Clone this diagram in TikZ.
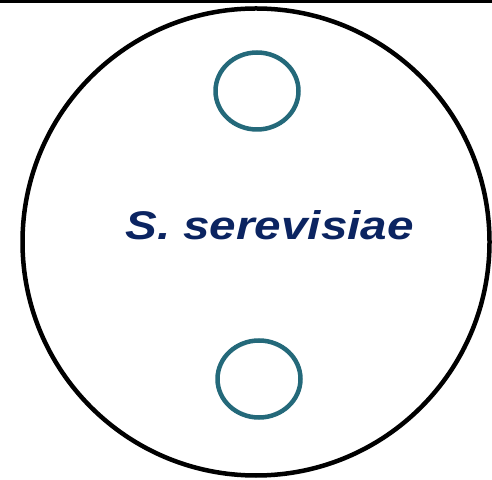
\documentclass[tikz,border=0pt]{standalone}
\usepackage{fontspec}
\setmainfont{Liberation Sans}
\usetikzlibrary{shapes.geometric}
\definecolor{spotteal}{HTML}{24697A}
\definecolor{namenavy}{HTML}{0B2461}
\tikzset{cell/.style={circle,draw,line width=4.5pt,minimum size=467pt,inner sep=0pt},
  spot/.style={ellipse,draw=spotteal,line width=4.5pt,minimum width=83pt,minimum height=77pt,inner sep=0pt}}

\begin{document}
\begin{tikzpicture}[x=1pt,y=1pt]
  \path[use as bounding box] (0,0) rectangle (492,479);
  \draw[line width=3pt] (0,477.5)--(492,477.5);
  \node[cell] (yeast) at (256,237) {};
  \node[spot] (spottop) at (257,388) {};
  \node[spot] (spotbot) at (259,100) {};
  \node[anchor=base,inner sep=0pt,text=namenavy,font=\fontsize{40}{42}\selectfont\bfseries\itshape] (name) at (269.5,239.5) {\scalebox{1.19}[1]{S. serevisiae}};
\end{tikzpicture}
\end{document}
